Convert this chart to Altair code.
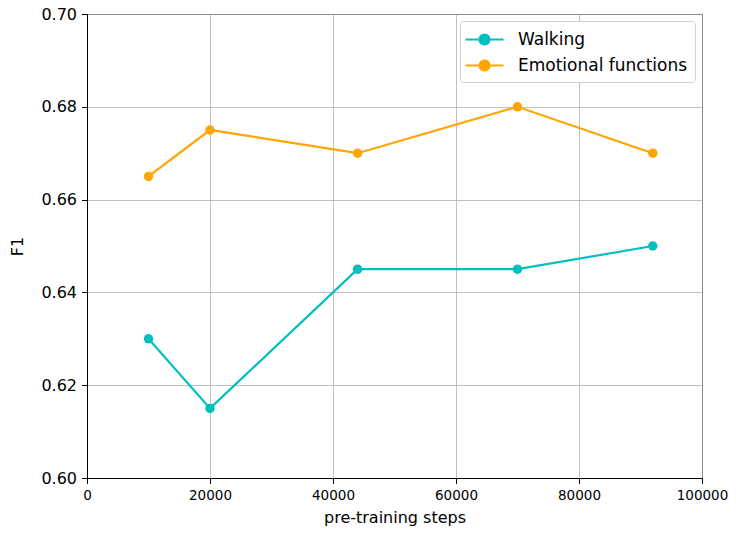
import altair as alt
import pandas as pd

steps = [10000, 20000, 44000, 70000, 92000]
walking = [0.630, 0.615, 0.645, 0.645, 0.650]
emotional = [0.665, 0.675, 0.670, 0.680, 0.670]
series = ["Walking", "Emotional functions"]
colors = ["#00BFBF", "#FFA500"]

rows = []
for s, v in zip(steps, walking):
    rows.append({"steps": s, "F1": v, "series": series[0]})
for s, v in zip(steps, emotional):
    rows.append({"steps": s, "F1": v, "series": series[1]})
df = pd.DataFrame(rows)

sym = "M-1.9,0L1.9,0M-0.5,0A0.5,0.5 0 1,1 0.5,0A0.5,0.5 0 1,1 -0.5,0Z"

x = alt.X("steps:Q", title="pre-training steps",
          scale=alt.Scale(domain=[0, 100000], nice=False, zero=False),
          axis=alt.Axis(values=[0, 20000, 40000, 60000, 80000, 100000], format="d",
                        labelPadding=5, labelFontSize=13.5, titlePadding=7))
y = alt.Y("F1:Q", title="F1",
          scale=alt.Scale(domain=[0.60, 0.70], nice=False, zero=False),
          axis=alt.Axis(values=[0.60, 0.62, 0.64, 0.66, 0.68, 0.70], format=".2f",
                        labelPadding=5, titlePadding=15))

base = alt.Chart(df)
lines = base.mark_line(strokeWidth=2.2).encode(
    x=x, y=y,
    color=alt.Color("series:N", sort=series,
                    scale=alt.Scale(domain=series, range=colors), title=None),
)
points = base.mark_point(filled=True, size=90, opacity=1).encode(
    x=x, y=y,
    fill=alt.Fill("series:N", sort=series,
                  scale=alt.Scale(domain=series, range=colors), title=None),
)

chart = alt.layer(lines, points).properties(
    width=615, height=464,
    autosize=alt.AutoSizeParams(type="none"),
    padding={"left": 79, "top": 6, "right": 26, "bottom": 50},
).configure_legend(
    orient="top-right", offset=7,
    symbolType=sym, symbolSize=400, symbolStrokeWidth=2.2, symbolOpacity=1,
    symbolOffset=6,
    labelFontSize=17, labelFont="DejaVu Sans", labelColor="#000", labelLimit=400,
    padding=7, rowPadding=5, labelOffset=22,
    strokeColor="#d0d0d0", cornerRadius=3, fillColor="white",
).configure_axis(
    grid=True, gridColor="#b0b0b0", gridWidth=0.8,
    domainColor="#000", domainWidth=1,
    tickColor="#000", tickSize=5.5, tickWidth=1,
    labelFont="DejaVu Sans", labelFontSize=16, labelColor="#000",
    titleFont="DejaVu Sans", titleFontSize=16, titleFontWeight="normal", titleColor="#000",
).configure_axisX(labelFlush=False
).configure_view(stroke="#000", strokeWidth=1)

chart.save("out.html", embed_options={"renderer": "svg", "actions": False})
